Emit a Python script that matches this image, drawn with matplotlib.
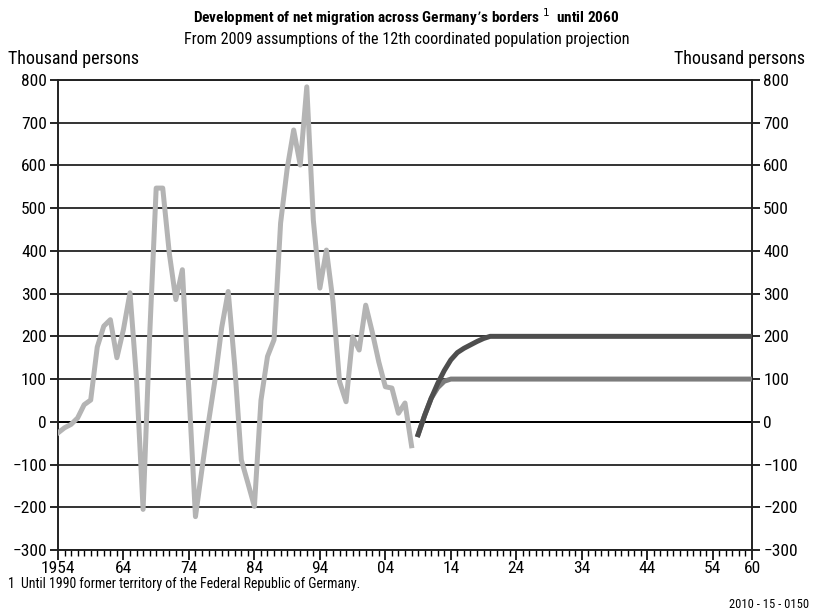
import matplotlib
matplotlib.use("Agg")
import matplotlib.pyplot as plt
from matplotlib.ticker import MultipleLocator
from matplotlib import font_manager

names = sorted(set(f.name for f in font_manager.fontManager.ttflist))
cands = ["Roboto Condensed", "Open Sans Condensed", "Liberation Sans Narrow", "Lato"]
font = [c for c in cands if c in names][0]
plt.rcParams['font.family'] = [font, 'DejaVu Sans']

# observed net migration, thousand persons
years_hist = list(range(1954, 2009))
net_hist = [-26, -14, -6, 9, 40, 51, 175, 224, 239, 150, 216, 302, 99, -205,
            200, 547, 547, 395, 286, 356, 70, -222, -110, 0, 100, 220, 305,
            130, -89, -143, -198, 50, 153, 192, 465, 592, 683, 601, 784, 472,
            313, 402, 282, 94, 47, 199, 168, 273, 210, 140, 82, 79, 20, 44, -56]

# projection: two assumptions
years_proj = list(range(2009, 2061))
proj_200 = [-30, 15, 55, 90, 120, 145, 162, 172, 180, 188, 195] + [200] * 41
proj_100 = [-30, 15, 55, 80, 95] + [100] * 47

fig = plt.figure(figsize=(8.13, 6.13), dpi=100)
ax = fig.add_axes([0.0713, 0.1028, 0.8537, 0.7667])

ax.plot(years_hist, net_hist, color="#b4b4b4", lw=3.6, zorder=3)
ax.plot(years_proj, proj_100, color="#7c7c7c", lw=3.6, zorder=3)
ax.plot(years_proj, proj_200, color="#4e4e4e", lw=3.6, zorder=4)

ax.set_xlim(1954, 2060)
ax.set_ylim(-300, 800)
ax.set_yticks(range(-300, 801, 100))
ax.grid(axis="y", color="#333333", lw=1.4, zorder=1)
ax.axhline(0, color="black", lw=1.4, zorder=2)

xt = [1954, 1964, 1974, 1984, 1994, 2004, 2014, 2024, 2034, 2044, 2054, 2060]
xl = ["1954", "64", "74", "84", "94", "04", "14", "24", "34", "44", "54", "60"]
ax.set_xticks(xt)
ax.set_xticklabels(xl)
ax.xaxis.set_minor_locator(MultipleLocator(1))
ax.tick_params(axis="x", which="major", direction="out", length=7, width=1.2, labelsize=12.5, pad=1)
ax.tick_params(axis="x", which="minor", direction="out", length=4, width=1)
ax.tick_params(axis="y", direction="out", length=6, width=1.2, labelsize=12.5,
               left=True, right=True, labelleft=True, labelright=True, pad=2)
for s in ax.spines.values():
    s.set_linewidth(1.4)
    s.set_color("#222222")

fig.text(0.5, 0.972, "Development of net migration across Germany\u2019s borders $^{1}$  until 2060",
         ha="center", va="center", fontsize=11, fontweight="bold")
fig.text(0.5, 0.937, "From 2009 assumptions of the 12th coordinated population projection",
         ha="center", va="center", fontsize=11.6)
fig.text(0.01, 0.903, "Thousand persons", ha="left", va="center", fontsize=13)
fig.text(0.99, 0.903, "Thousand persons", ha="right", va="center", fontsize=13)
fig.text(0.01, 0.047, "1  Until 1990 former territory of the Federal Republic of Germany.",
         ha="left", va="center", fontsize=10)
fig.text(0.995, 0.014, "2010 - 15 - 0150", ha="right", va="center", fontsize=9)

fig.savefig("out.png", dpi=100)
